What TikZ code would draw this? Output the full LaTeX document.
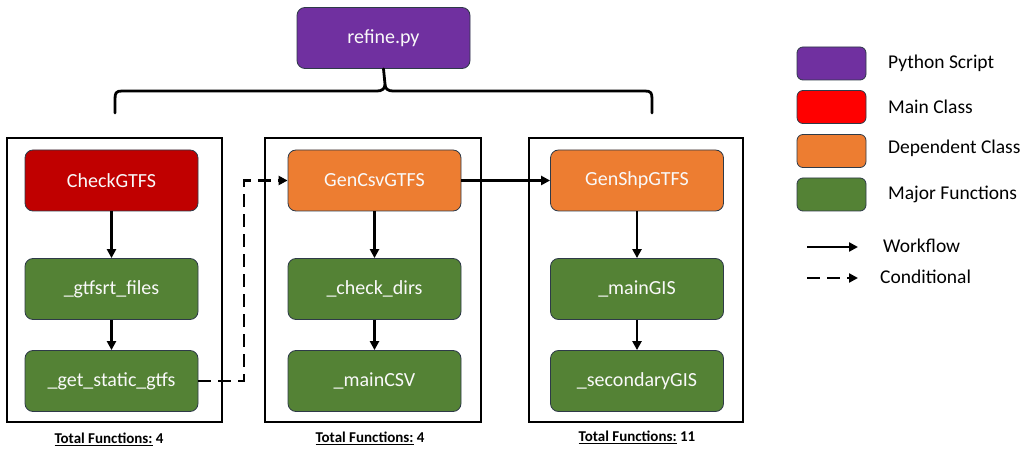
\documentclass[tikz,border=0pt]{standalone}
\usepackage{fontspec}
\setmainfont{Carlito}
\usetikzlibrary{arrows.meta}
\definecolor{pyPurple}{HTML}{7030A0}
\definecolor{mainRed}{HTML}{C00000}
\definecolor{legRed}{HTML}{FF0000}
\definecolor{depOrange}{HTML}{ED7D31}
\definecolor{funcGreen}{HTML}{548235}
\definecolor{edgeDark}{HTML}{2E3A48}
\begin{document}
\begin{tikzpicture}[x=1pt,y=-1pt,
  box/.style={rounded corners=8pt, draw=edgeDark, line width=0.8pt,
    minimum width=173pt, minimum height=61pt, text=white!95!gray,
    font=\fontsize{20}{22}\selectfont, inner sep=0pt},
  script/.style={box, fill=pyPurple},
  mainclass/.style={box, fill=mainRed},
  depclass/.style={box, fill=depOrange},
  func/.style={box, fill=funcGreen},
  frame/.style={draw=black, line width=2.4pt},
  flow/.style={line width=2.8pt, -{Triangle[length=9pt,width=9pt]}},
  condflow/.style={flow, dash pattern=on 13pt off 7pt},
  swatch/.style={rounded corners=6pt, draw=edgeDark, line width=0.8pt,
    minimum width=69pt, minimum height=33pt, inner sep=0pt},
  legtext/.style={anchor=west, font=\fontsize{19.5}{21}\selectfont, inner sep=0pt},
  total/.style={font=\bfseries\fontsize{15}{17}\selectfont, inner sep=0pt}
]
\useasboundingbox (0,0) rectangle (1029,449);

% top-level script
\node[script] (refine) at (383.5,38) {refine.py};

% brace grouping the three classes
\coordinate (bL) at (115,113);
\coordinate (bR) at (652,113);
\draw[line width=2.8pt, line cap=round, line join=round]
  (bL) -- (115,99) .. controls (115,93) and (116,91) .. (122,91)
  -- (377,91) .. controls (382,91) and (385,89) .. (385,84) -- (refine.south)
  (385,84) .. controls (385,89) and (388,91) .. (393,91)
  -- (645,91) .. controls (651,91) and (652,93) .. (652,99) -- (bR);

% class frames
\draw[frame] (7,138) rectangle (222,422);
\draw[frame] (265,138) rectangle (481,422);
\draw[frame] (529,138) rectangle (743,422);

% column 1
\node[mainclass] (check) at (111.5,180.5) {CheckGTFS};
\node[func] (gtfsrt) at (111.5,289) {\_gtfsrt\_files};
\node[func] (static) at (111.5,381) {\_get\_static\_gtfs};

% column 2
\node[depclass] (gencsv) at (374.5,180.5) {GenCsvGTFS};
\node[func] (dirs) at (374.5,289) {\_check\_dirs};
\node[func] (maincsv) at (374.5,381) {\_mainCSV};

% column 3
\node[depclass] (genshp) at (637,180.5) {GenShpGTFS};
\node[func] (maingis) at (637,289) {\_mainGIS};
\node[func] (secgis) at (637,381) {\_secondaryGIS};

% workflow arrows
\draw[flow] (check) -- (gtfsrt);
\draw[flow] (gtfsrt) -- (static);
\draw[flow] (gencsv) -- (dirs);
\draw[flow] (dirs) -- (maincsv);
\draw[flow] (genshp) -- (maingis);
\draw[flow] (maingis) -- (secgis);
\draw[flow] (gencsv) -- (genshp);
\draw[condflow] (static.east) -- (244,381) -- (244,180.5) -- (gencsv.west);

% totals
\node[total] (t1) at (109,439) {\underline{Total Functions:} 4};
\node[total] (t2) at (370,438) {\underline{Total Functions:} 4};
\node[total] (t3) at (637,437) {\underline{Total Functions:} 11};

% legend
\node[swatch, fill=pyPurple] (s1) at (831.5,63.5) {};
\node[swatch, fill=legRed] (s2) at (831.5,107) {};
\node[swatch, fill=depOrange] (s3) at (831.5,151) {};
\node[swatch, fill=funcGreen] (s4) at (831.5,194.5) {};
\node[legtext] (l1) at (888,63.5) {Python Script};
\node[legtext] (l2) at (888,107) {Main Class};
\node[legtext] (l3) at (888,148.5) {Dependent Class};
\node[legtext] (l4) at (888,194) {Major Functions};

\coordinate (wa) at (807,247);
\coordinate (wb) at (858,247);
\coordinate (ca) at (807,278);
\coordinate (cb) at (858,278);
\draw[flow] (wa) -- (wb);
\draw[flow, dash pattern=on 13pt off 7pt] (ca) -- (cb);
\node[legtext] (l5) at (883,246) {Workflow};
\node[legtext] (l6) at (880,277) {Conditional};
\end{tikzpicture}
\end{document}
